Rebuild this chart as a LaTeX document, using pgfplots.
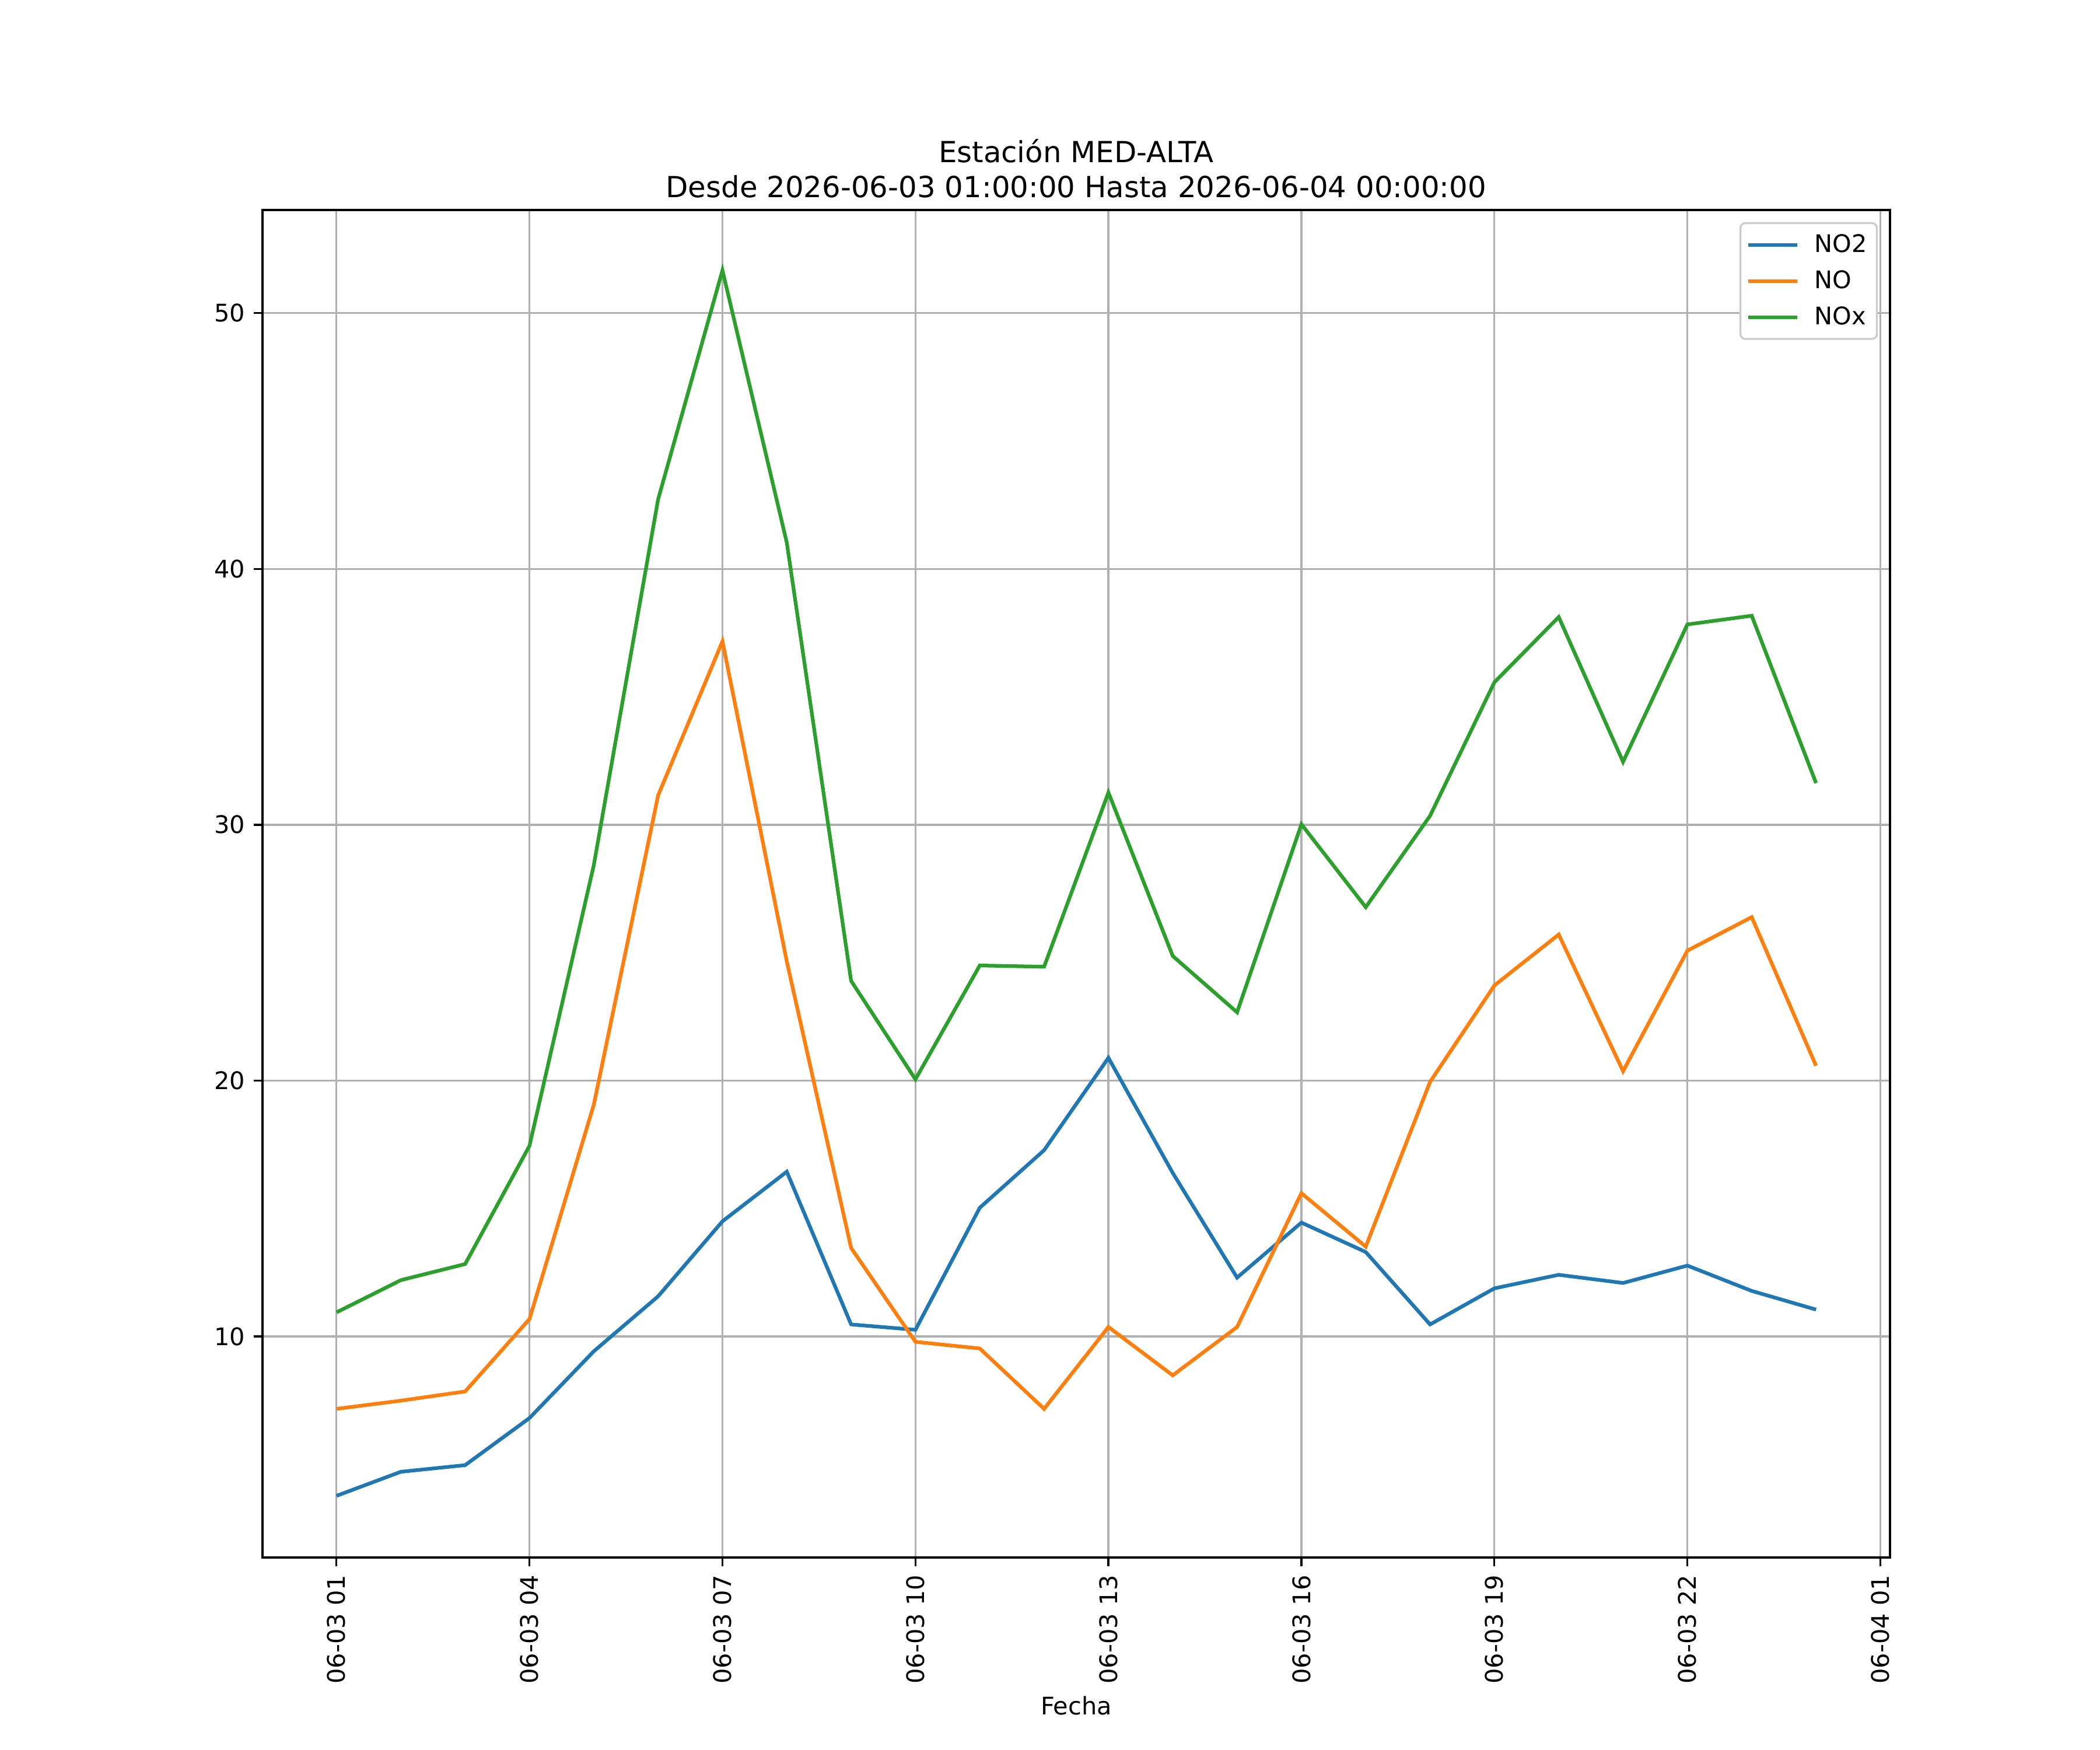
\documentclass[border=0pt]{standalone}
\usepackage{fontspec}
\setmainfont{DejaVu Sans}
\usepackage{pgfplots}
\usepackage{pgfplotstable}
\pgfplotsset{compat=1.18}
\definecolor{cA}{HTML}{1F77B4}
\definecolor{cB}{HTML}{FF7F0E}
\definecolor{cC}{HTML}{2CA02C}
\definecolor{gridc}{HTML}{B0B0B0}
\definecolor{legc}{HTML}{CCCCCC}
\pgfplotstableread{
h no2 no nox
1 3.77 7.17 10.94
2 4.71 7.49 12.20
3 4.97 7.85 12.83
4 6.81 10.68 17.45
5 9.42 19.06 28.42
6 11.57 31.15 42.72
7 14.50 37.17 51.67
8 16.44 24.66 41.03
9 10.47 13.46 23.90
10 10.26 9.79 20.05
11 15.03 9.53 24.50
12 17.28 7.17 24.45
13 20.89 10.37 31.26
14 16.39 8.48 24.87
15 12.30 10.37 22.67
16 14.45 15.60 30.02
17 13.30 13.51 26.78
18 10.47 19.95 30.35
19 11.88 23.72 35.57
20 12.41 25.71 38.12
21 12.09 20.37 32.46
22 12.77 25.08 37.83
23 11.78 26.39 38.17
24 11.05 20.58 31.63
}\data
\begin{document}
\begin{tikzpicture}
\path[use as bounding box] (-108bp,-79.2bp) rectangle (756bp,640.8bp);
\begin{axis}[
  at={(0,0)}, anchor=south west,
  scale only axis, width=669.6bp, height=554.4bp,
  xmin=-0.15, xmax=25.15, ymin=1.36, ymax=54.03,
  xtick={1,4,7,10,13,16,19,22,25},
  xticklabels={06-03 01,06-03 04,06-03 07,06-03 10,06-03 13,06-03 16,06-03 19,06-03 22,06-04 01},
  ytick={10,20,30,40,50},
  /pgf/number format/assume math mode=true,
  tick pos=left, tick align=outside, major tick length=3.5bp,
  tick style={black, line width=0.8bp},
  axis line style={black, line width=0.8bp},
  grid=major, major grid style={gridc, line width=0.8bp},
  ticklabel style={font=\fontsize{10}{12}\selectfont},
  xticklabel style={rotate=90, anchor=east, inner sep=0pt, xshift=-3.5bp},
  yticklabel style={inner sep=0pt, xshift=-3.5bp},
  xlabel={Fecha},
  xlabel style={font=\fontsize{10}{12}\selectfont, inner sep=0pt, yshift=-5bp},
  title={Estación MED-ALTA\\Desde 2026-06-03 01:00:00 Hasta 2026-06-04 00:00:00},
  title style={at={(0.5,1)}, anchor=south, align=center, inner sep=0pt, yshift=-1.2bp, font=\fontsize{12}{14.4}\selectfont},
  legend style={at={(1,1)}, anchor=north east, xshift=-5bp, yshift=-5bp,
    draw=legc, line width=0.8bp, rounded corners=2bp, fill=white,
    font=\fontsize{10}{12}\selectfont, inner xsep=2.5bp, inner ysep=3bp, row sep=3bp,
    column sep=5bp, nodes={inner sep=1.5bp}},
  legend cell align=left,
  legend image code/.code={\draw[#1, line width=1.5bp] (0bp,0bp) -- (20bp,0bp);},
]
\addplot[cA, line width=1.5bp] table[x=h, y=no2] {\data};
\addlegendentry{NO2}
\addplot[cB, line width=1.5bp] table[x=h, y=no] {\data};
\addlegendentry{NO}
\addplot[cC, line width=1.5bp] table[x=h, y=nox] {\data};
\addlegendentry{NOx}
\end{axis}
\end{tikzpicture}
\end{document}
